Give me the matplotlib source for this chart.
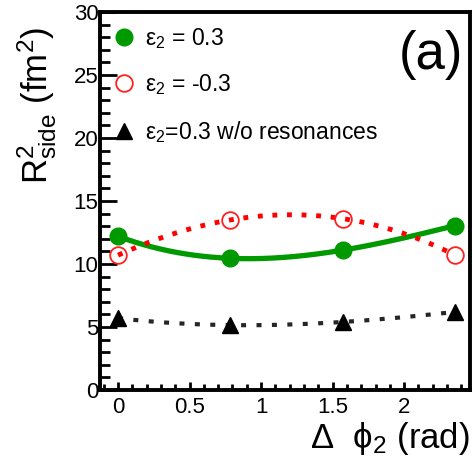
import numpy as np
import matplotlib
matplotlib.use("Agg")
import matplotlib.pyplot as plt
from matplotlib.lines import Line2D
from matplotlib.ticker import MultipleLocator

plt.rcParams['font.family'] = ['Liberation Sans', 'DejaVu Sans']
plt.rcParams['mathtext.fontset'] = 'custom'
plt.rcParams['mathtext.rm'] = 'Liberation Sans'
plt.rcParams['mathtext.it'] = 'Liberation Sans'
plt.rcParams['mathtext.bf'] = 'Liberation Sans:bold'

# data
dphi = [0.0, 0.785, 1.571, 2.356]
r_pos = [12.2, 10.45, 11.1, 13.05]      # eps2 = 0.3
r_neg = [10.7, 13.5, 13.6, 10.7]        # eps2 = -0.3
r_nores = [5.7, 5.15, 5.4, 6.2]         # eps2 = 0.3 w/o resonances
labels = [r'ε$_{2}$ = 0.3', r'ε$_{2}$ = -0.3', r'ε$_{2}$=0.3 w/o resonances']

W, H = 473, 467
fig = plt.figure(figsize=(W/100, H/100), dpi=100)
ax = fig.add_axes([100/W, 1-390/H, 370/W, 378/H])

xs = np.linspace(dphi[0], dphi[-1], 200)
def smooth(y):
    c = np.polyfit(dphi, y, 3)
    return np.polyval(c, xs)

green = '#009900'
ax.plot(xs, smooth(r_pos), color=green, lw=3.8, solid_capstyle='butt')
ax.plot(xs, smooth(r_neg), color='red', lw=3.5, ls=(0, (1, 2)))
ax.plot(xs, smooth(r_nores), color='black', lw=3.0, ls=(0, (1.2, 2.5, 1.2, 2.5)), alpha=0.85)

ax.plot(dphi, r_pos, 'o', color=green, ms=12, mec=green)
ax.plot(dphi, r_neg, 'o', mfc='none', mec='#ff2020', ms=12, mew=1.3)
ax.plot(dphi, r_nores, '^', color='black', ms=12)

ax.set_xlim(-0.126, 2.46)
ax.set_ylim(0, 30)

for s in ax.spines.values():
    s.set_linewidth(2.8)

ax.xaxis.set_major_locator(MultipleLocator(0.5))
ax.xaxis.set_minor_locator(MultipleLocator(0.1))
ax.yaxis.set_major_locator(MultipleLocator(5))
ax.yaxis.set_minor_locator(MultipleLocator(1))
ax.tick_params(axis='y', which='major', direction='in', length=12, width=2, labelsize=16, pad=1)
ax.tick_params(axis='y', which='minor', direction='in', length=7, width=2)
ax.tick_params(axis='x', which='major', direction='in', length=6, width=2, labelsize=16, pad=5)
ax.tick_params(axis='x', which='minor', direction='in', length=4, width=2)
ax.tick_params(top=False, right=False, which='both')
ax.xaxis.set_major_formatter(matplotlib.ticker.FuncFormatter(lambda v, p: ('%g' % v)))

ax.set_xlabel('Δ  \u03d5$_{2}$ (rad)', fontsize=25, ha='right', va='top')
ax.xaxis.set_label_coords(1.0, -0.08)
ax.set_ylabel(r'R$^{2}_{side}$ (fm$^{2}$)', fontsize=25, ha='right', va='bottom')
ax.yaxis.set_label_coords(-0.11, 0.96)

handles = [
    Line2D([], [], ls='none', marker='o', color=green, ms=12),
    Line2D([], [], ls='none', marker='o', mfc='none', mec='#ff2020', ms=12, mew=1.3),
    Line2D([], [], ls='none', marker='^', color='black', ms=12),
]
ax.legend(handles, labels, loc='upper left', bbox_to_anchor=(-0.015, 1.012), frameon=False,
          fontsize=16.5, handlelength=1.0, handletextpad=0.4, labelspacing=0.95, borderpad=0.3)

ax.text(0.895, 0.887, '(a)', transform=ax.transAxes, fontsize=38, ha='center', va='center')

fig.savefig('out.png', dpi=100)
